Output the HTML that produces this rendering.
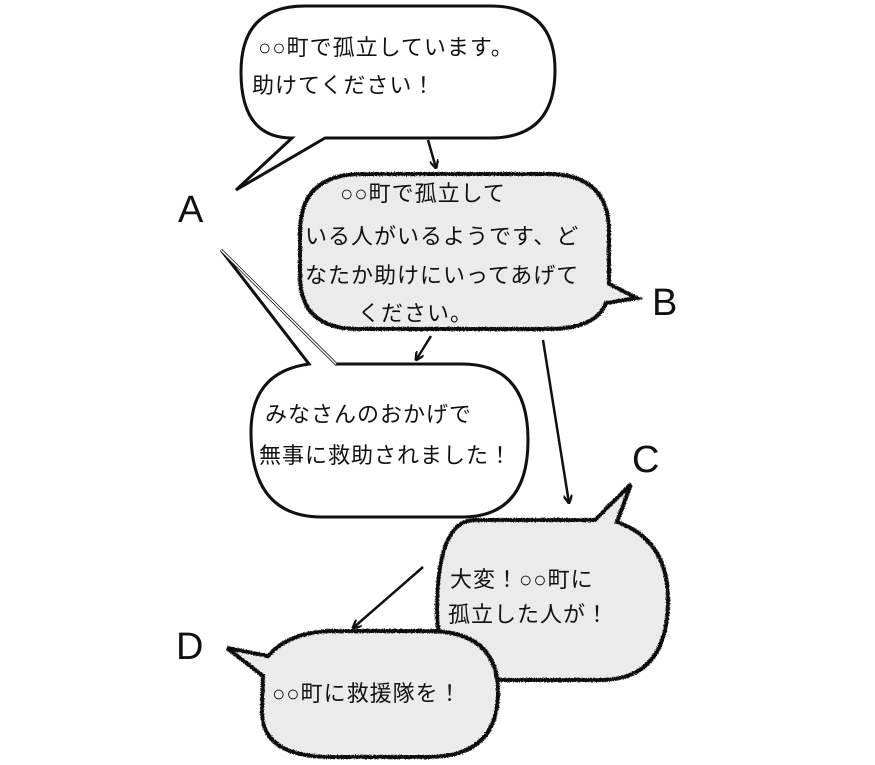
<!DOCTYPE html>
<html><head><meta charset="utf-8">
<style>
html,body{margin:0;padding:0;background:#fff;}
svg{display:block;}
text{font-family:"Liberation Sans","Noto Sans CJK JP",sans-serif;fill:#111;}
.j{font-size:22px;letter-spacing:1px;}
.L{font-size:38px;font-weight:300;}
</style></head><body>
<svg width="875" height="765" viewBox="0 0 875 765" xmlns="http://www.w3.org/2000/svg">
<defs>
<filter id="rough" x="-5%" y="-5%" width="110%" height="110%">
<feTurbulence type="fractalNoise" baseFrequency="0.9" numOctaves="2" seed="3" result="n"/>
<feDisplacementMap in="SourceGraphic" in2="n" scale="3" xChannelSelector="R" yChannelSelector="G"/>
</filter>
<marker id="ar" viewBox="0 0 10 10" refX="9" refY="5" markerWidth="9" markerHeight="9" orient="auto" markerUnits="userSpaceOnUse">
<path d="M0,0 L10,5 L0,10" fill="none" stroke="#111" stroke-width="2.5"/>
</marker>
</defs>

<path d="M325,138 L236,190 L292,138 Q241,138 241,72 Q241,6 305,6 L490,6 Q555,6 555,70 Q555,138 490,138 Z" fill="#fff" stroke="#111" stroke-width="3"/>
<text class="j" x="258" y="55">○○町で孤立しています。</text>
<text class="j" x="252" y="93">助けてください！</text>

<path d="M300,232 Q300,174 362,174 L548,174 Q609,174 609,232 L609,284 L637,298 L606,303 Q596,329 548,329 L358,329 Q300,329 300,276 Z" fill="#ebebeb" stroke="#111" stroke-width="4" filter="url(#rough)"/>
<text class="j" x="340" y="201">○○町で孤立して</text>
<text class="j" x="305" y="244">いる人がいるようです、ど</text>
<text class="j" x="305" y="283">なたか助けにいってあげて</text>
<text class="j" x="358" y="321">ください。</text>

<path d="M336,364 L221,250 L309,364 Q251,372 251,432 Q251,517 322,517 L462,517 Q528,517 528,440 Q528,364 462,364 Z" fill="#fff" stroke="#111" stroke-width="3"/>
<path d="M221,250 L336,364" stroke="#fff" stroke-width="1.5"/>
<text class="j" x="265" y="422">みなさんのおかげで</text>
<text class="j" x="259" y="463">無事に救助されました！</text>

<path d="M475,520 L595,520 L631,484 L617,522 Q668,540 668,600 Q668,680 600,680 L505,680 Q437,680 437,612 Q437,520 475,520 Z" fill="#ebebeb" stroke="#111" stroke-width="4" filter="url(#rough)"/>
<text class="j" x="450" y="587">大変！○○町に</text>
<text class="j" x="448" y="622">孤立した人が！</text>

<path d="M227,648 L268,656 Q290,631 335,631 L428,631 Q498,631 498,692 Q498,757 428,757 L332,757 Q262,757 262,712 L263,676 Z" fill="#ebebeb" stroke="#111" stroke-width="4" filter="url(#rough)"/>
<text class="j" x="272" y="701">○○町に救援隊を！</text>

<line x1="428" y1="140" x2="436" y2="168" stroke="#111" stroke-width="2.5" marker-end="url(#ar)"/>
<line x1="431" y1="336" x2="416" y2="360" stroke="#111" stroke-width="2.5" marker-end="url(#ar)"/>
<line x1="543" y1="340" x2="569" y2="503" stroke="#111" stroke-width="2.5" marker-end="url(#ar)"/>
<line x1="423" y1="567" x2="353" y2="628" stroke="#111" stroke-width="2.5" marker-end="url(#ar)"/>

<text class="L" x="178" y="222">A</text>
<text class="L" x="652" y="315">B</text>
<text class="L" x="632" y="472">C</text>
<text class="L" x="176" y="659">D</text>
</svg>
</body></html>
